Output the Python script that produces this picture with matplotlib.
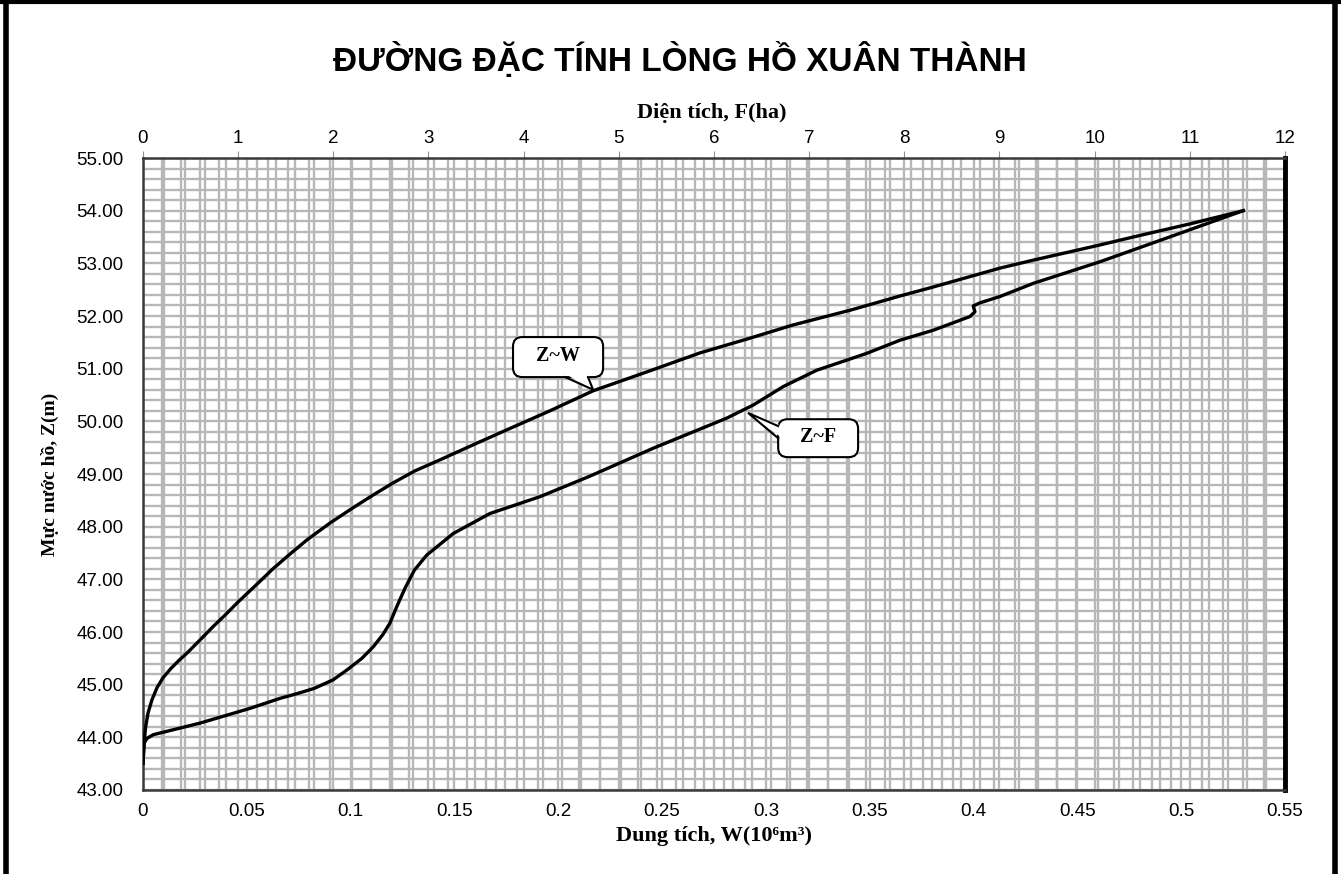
import matplotlib
matplotlib.use("Agg")
import matplotlib.pyplot as plt
from matplotlib.lines import Line2D
from matplotlib.patches import FancyBboxPatch, Polygon
import numpy as np

# ---- data ----
# Z ~ W  (water level vs. storage, W in 10^6 m3)
z_w = [43.51, 43.86, 44.18, 44.46, 44.71, 44.94, 45.13, 45.31, 45.46, 45.60, 45.85,
       46.10, 46.34, 46.57, 46.89, 47.20, 47.48, 47.75, 48.07, 48.36, 48.60, 48.83,
       49.06, 49.27, 49.57, 49.84, 50.20, 50.58, 50.96, 51.30, 51.58, 51.83, 52.11,
       52.38, 52.55, 52.91, 53.06, 53.35, 53.50, 53.75, 54.00]
w_vals = [0.0, 0.0005, 0.0012, 0.0024, 0.0043, 0.0067, 0.0096, 0.0135, 0.0173, 0.0212, 0.0275,
          0.0337, 0.0400, 0.0458, 0.0544, 0.0626, 0.0708, 0.0790, 0.0901, 0.1012, 0.1108, 0.1204,
          0.1310, 0.1431, 0.1599, 0.1753, 0.1960, 0.2168, 0.2442, 0.2683, 0.2924, 0.3131, 0.3406,
          0.3646, 0.3805, 0.4128, 0.4287, 0.4610, 0.4769, 0.5043, 0.5299]

# Z ~ F  (water level vs. surface area, F in ha)
z_f = [43.51, 43.89, 43.98, 44.05, 44.27, 44.55, 44.74, 44.83, 44.93, 45.09, 45.28, 45.50,
       45.72, 45.95, 46.17, 46.48, 46.83, 47.17, 47.46, 47.87, 48.25, 48.57, 48.96, 49.49,
       50.06, 50.31, 50.66, 50.97, 51.29, 51.54, 51.73, 51.99, 52.08, 52.19, 52.25, 52.37,
       52.62, 53.03, 53.48, 54.00]
f_vals = [0.0, 0.011, 0.042, 0.108, 0.599, 1.124, 1.440, 1.620, 1.800, 1.996, 2.144, 2.300,
          2.420, 2.520, 2.595, 2.666, 2.753, 2.850, 2.981, 3.260, 3.646, 4.172, 4.697, 5.362,
          6.133, 6.413, 6.728, 7.079, 7.604, 7.954, 8.304, 8.690, 8.742, 8.724, 8.795, 9.005,
          9.355, 10.056, 10.756, 11.561]

w_ticks = [0, 0.05, 0.1, 0.15, 0.2, 0.25, 0.3, 0.35, 0.4, 0.45, 0.5, 0.55]
w_tick_labels = ["0", "0.05", "0.1", "0.15", "0.2", "0.25", "0.3", "0.35", "0.4", "0.45", "0.5", "0.55"]
f_ticks = list(range(0, 13))
z_ticks = [43, 44, 45, 46, 47, 48, 49, 50, 51, 52, 53, 54, 55]

title = "ĐƯỜNG ĐẶC TÍNH LÒNG HỒ XUÂN THÀNH"
xlabel_bottom = "Dung tích, W(10\u2076m\u00b3)"
xlabel_top = "Diện tích, F(ha)"
ylabel = "Mực nước hồ, Z(m)"

# ---- figure ----
W_PX, H_PX = 1341, 874
fig = plt.figure(figsize=(W_PX / 100, H_PX / 100), dpi=100)
fig.patch.set_facecolor("white")

l, r, t, b = 143, 1285, 158, 790
ax = fig.add_axes([l / W_PX, 1 - b / H_PX, (r - l) / W_PX, (b - t) / H_PX])
ax2 = ax.twiny()
ax.set_zorder(2)
ax2.set_zorder(1)
ax.patch.set_visible(False)
ax2.patch.set_facecolor("white")

ax.set_xlim(0, 0.55)
ax.set_ylim(43, 55)
ax2.set_xlim(0, 12)

grid_c = "#b7b7b7"
ax2.set_xticks(f_ticks)
ax2.set_xticks(np.arange(0, 12.001, 0.2), minor=True)
ax2.grid(which="both", axis="x", color=grid_c, lw=1.7)
ax.set_xticks(w_ticks)
ax.set_xticklabels(w_tick_labels)
ax.set_xticks(np.arange(0, 0.5501, 0.01), minor=True)
ax.set_yticks(z_ticks)
ax.set_yticklabels([f"{v:.2f}" for v in z_ticks])
ax.set_yticks(np.arange(43, 55.001, 0.2), minor=True)
ax.set_axisbelow(True)
ax.grid(which="both", axis="both", color=grid_c, lw=1.7)

# curves
line_kw = dict(color="black", lw=2.4, solid_joinstyle="round", zorder=5)
ax.plot(w_vals, z_w, **line_kw)
ax.plot(f_vals, z_f, transform=ax2.transData, **line_kw)

# callouts (rounded box with a pointer)
ASPECT = (55 - 43) / 632 / (0.55 / 1142)   # data-units ratio y/x per pixel


def callout(text, x0, x1, y0, y1, base1, base2, tip, inset):
    box = FancyBboxPatch((x0, y0), x1 - x0, y1 - y0,
                         boxstyle="round,pad=0,rounding_size=0.0045",
                         mutation_aspect=ASPECT, fc="white", ec="black", lw=1.5, zorder=6)
    ax.add_patch(box)
    b1 = (base1[0] + inset[0], base1[1] + inset[1])
    b2 = (base2[0] + inset[0], base2[1] + inset[1])
    ax.add_patch(Polygon([b1, tip, b2], closed=True, fc="white", ec="none", zorder=7))
    ax.plot([base1[0], tip[0], base2[0]], [base1[1], tip[1], base2[1]],
            color="black", lw=1.5, zorder=8, solid_joinstyle="miter")
    ax.text((x0 + x1) / 2, (y0 + y1) / 2 + 0.02, text, ha="center", va="center",
            fontsize=14.5, fontweight="bold", family="Liberation Serif", zorder=9)


callout("Z~W", 0.1782, 0.2216, 50.84, 51.60,
        (0.2033, 50.84), (0.2143, 50.84), (0.2168, 50.60), (0.0, 0.06))
callout("Z~F", 0.3059, 0.3444, 49.32, 50.04,
        (0.3059, 49.91), (0.3059, 49.68), (0.2914, 50.16), (0.002, 0.0))

# ticks
ax.tick_params(axis="x", which="both", length=0, pad=9)
ax.tick_params(axis="y", which="both", length=0, pad=14)
ax2.tick_params(axis="x", which="major", length=5, color="#909090", pad=3)
ax2.tick_params(axis="x", which="minor", length=0)
for lab in ax.get_xticklabels() + ax.get_yticklabels() + ax2.get_xticklabels():
    lab.set_fontfamily("Liberation Sans")
    lab.set_fontsize(13.5)

# spines
for s in ax2.spines.values():
    s.set_visible(False)
for name in ["left", "bottom", "top"]:
    ax.spines[name].set_color("#3a3a3a")
    ax.spines[name].set_linewidth(1.8)
ax.spines["right"].set_color("black")
ax.spines["right"].set_linewidth(3.5)

# labels
lab_font = dict(family=["Liberation Serif", "DejaVu Serif"], fontweight="bold")
fig.text(714 / W_PX, 1 - 836 / H_PX, xlabel_bottom, ha="center", va="center", fontsize=16, **lab_font)
fig.text(712 / W_PX, 1 - 113 / H_PX, xlabel_top, ha="center", va="center", fontsize=16, **lab_font)
fig.text(50 / W_PX, 1 - 474 / H_PX, ylabel, ha="center", va="center", rotation=90, fontsize=14, **lab_font)
fig.text(680 / W_PX, 1 - 60 / H_PX, title, ha="center", va="center", fontsize=24,
         fontweight="bold", family=["Liberation Sans", "DejaVu Sans"])

# outer frame (left, top, right)
fig.add_artist(Line2D([6 / W_PX, 6 / W_PX], [0, 1], color="black", lw=4, transform=fig.transFigure))
fig.add_artist(Line2D([0, 1], [1 - 1.5 / H_PX, 1 - 1.5 / H_PX], color="black", lw=3, transform=fig.transFigure))
fig.add_artist(Line2D([1335 / W_PX, 1335 / W_PX], [0, 1], color="black", lw=4, transform=fig.transFigure))

fig.savefig("out.png", dpi=100)
